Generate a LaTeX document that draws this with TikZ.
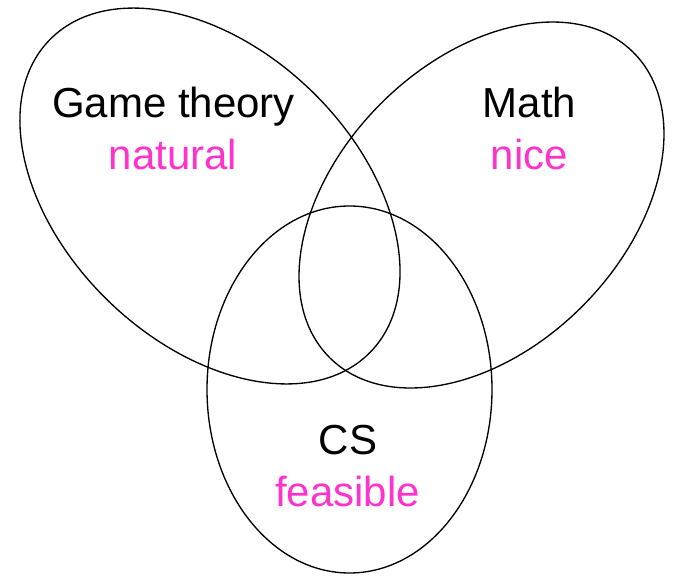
\documentclass[tikz,border=0pt]{standalone}
\usepackage{fontspec}
\setmainfont{Liberation Sans}
\definecolor{pinktxt}{RGB}{255,51,204}
\begin{document}
\begin{tikzpicture}[x=0.75pt,y=0.75pt,
  setline/.style={draw=black,line width=1pt},
  title/.style={font=\fontsize{31.5pt}{36pt}\selectfont,anchor=base,inner sep=0pt},
  sub/.style={title,text=pinktxt}]
\useasboundingbox (0,0) rectangle (674,575);
\coordinate (gc) at (210,379);
\coordinate (mc) at (481.5,370);
\coordinate (cc) at (349.5,185.5);
\draw[setline,rotate around={-44.2:(gc)}] (gc) ellipse [x radius=223.8,y radius=146.1];
\draw[setline,rotate around={45.2:(mc)}] (mc) ellipse [x radius=215.3,y radius=142.9];
\draw[setline] (cc) ellipse [x radius=142.5,y radius=183.5];
\node[title] (gt) at (173.5,457) {Game theory};
\node[sub] (nat) at (173,405) {natural};
\node[title] (ma) at (529.5,457) {Math};
\node[sub] (ni) at (529.5,405) {nice};
\node[title] (cs) at (348,121) {CS};
\node[sub] (fe) at (347.5,69) {feasible};
\end{tikzpicture}
\end{document}
